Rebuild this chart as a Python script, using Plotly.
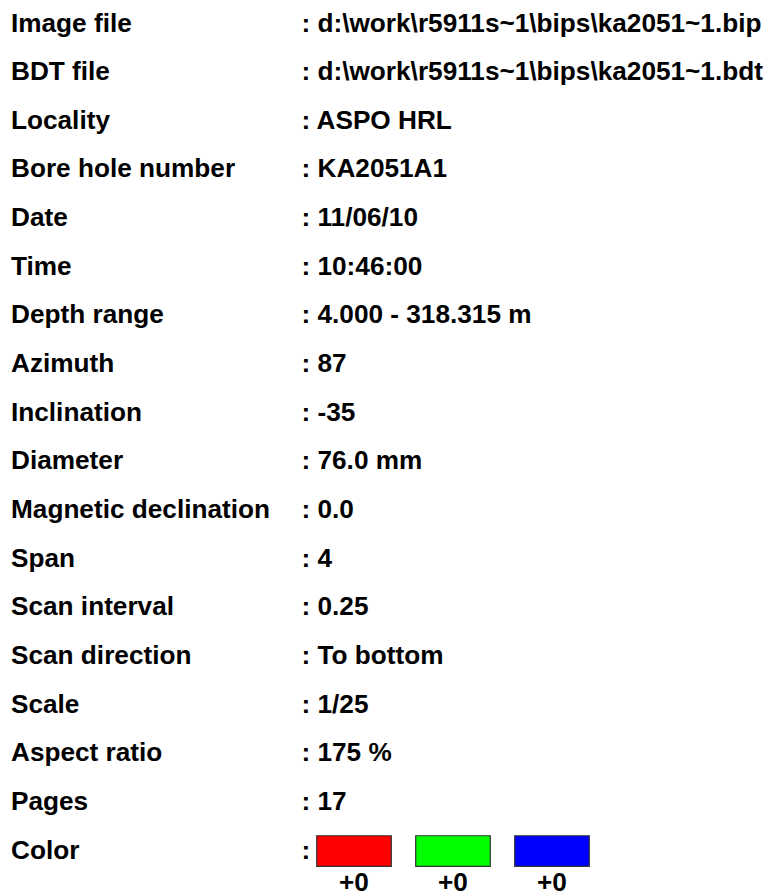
import plotly.graph_objects as go

# ---- data ----
labels = [
    "Image file", "BDT file", "Locality", "Bore hole number", "Date", "Time",
    "Depth range", "Azimuth", "Inclination", "Diameter", "Magnetic declination",
    "Span", "Scan interval", "Scan direction", "Scale", "Aspect ratio", "Pages",
    "Color",
]
values = [
    r"d:\work\r5911s~1\bips\ka2051~1.bip",
    r"d:\work\r5911s~1\bips\ka2051~1.bdt",
    "ASPO HRL", "KA2051A1", "11/06/10", "10:46:00", "4.000 - 318.315 m",
    "87", "-35", "76.0 mm", "0.0", "4", "0.25", "To bottom", "1/25",
    "175 %", "17", "",
]
channel_colors = ["#FF0000", "#00FF00", "#0000FF"]
channel_offsets = ["+0", "+0", "+0"]
channel_x = [354, 453, 552]

# ---- layout constants ----
PAGE_W, PAGE_H = 773, 896
BODY_MARGIN = 8           # default page margin around the plot div
ROW0_PX = 25.0
ROW_STEP = 48.65
FS = 26.2
FONT = dict(family="Liberation Sans, Arial, sans-serif", size=FS, color="black", weight="bold")

rows = list(range(len(labels)))
y_top = (BODY_MARGIN - ROW0_PX) / ROW_STEP
y_bot = (PAGE_H - ROW0_PX) / ROW_STEP
color_row = labels.index("Color")

fig = go.Figure()

# labels column
fig.add_trace(go.Scatter(
    x=[11] * len(labels), y=rows, mode="text", text=labels,
    textposition="middle right", textfont=FONT, hoverinfo="skip",
))
# values column
fig.add_trace(go.Scatter(
    x=[301.5] * len(values), y=rows, mode="text",
    text=[": " + v if v else ":" for v in values],
    textposition="middle right", textfont=FONT, hoverinfo="skip",
))
# colour swatches
sw_h = 30.7 / ROW_STEP
fig.add_trace(go.Bar(
    x=channel_x, y=[sw_h] * 3, base=[color_row - sw_h / 2 - 0.02] * 3,
    width=[74.6] * 3,
    marker=dict(color=channel_colors, line=dict(color="#333333", width=1.2)),
    hoverinfo="skip",
))
# offsets under swatches
fig.add_trace(go.Scatter(
    x=channel_x, y=[color_row + 0.66] * 3, mode="text", text=channel_offsets,
    textposition="middle center", textfont=FONT, hoverinfo="skip",
))

fig.update_layout(
    width=PAGE_W - BODY_MARGIN, height=PAGE_H - BODY_MARGIN,
    margin=dict(l=0, r=0, t=0, b=0),
    paper_bgcolor="white", plot_bgcolor="white", showlegend=False,
    xaxis=dict(range=[BODY_MARGIN, PAGE_W], visible=False, fixedrange=True),
    yaxis=dict(range=[y_bot, y_top], visible=False, fixedrange=True),
)

fig.write_html("out.html", config={"displayModeBar": False})
